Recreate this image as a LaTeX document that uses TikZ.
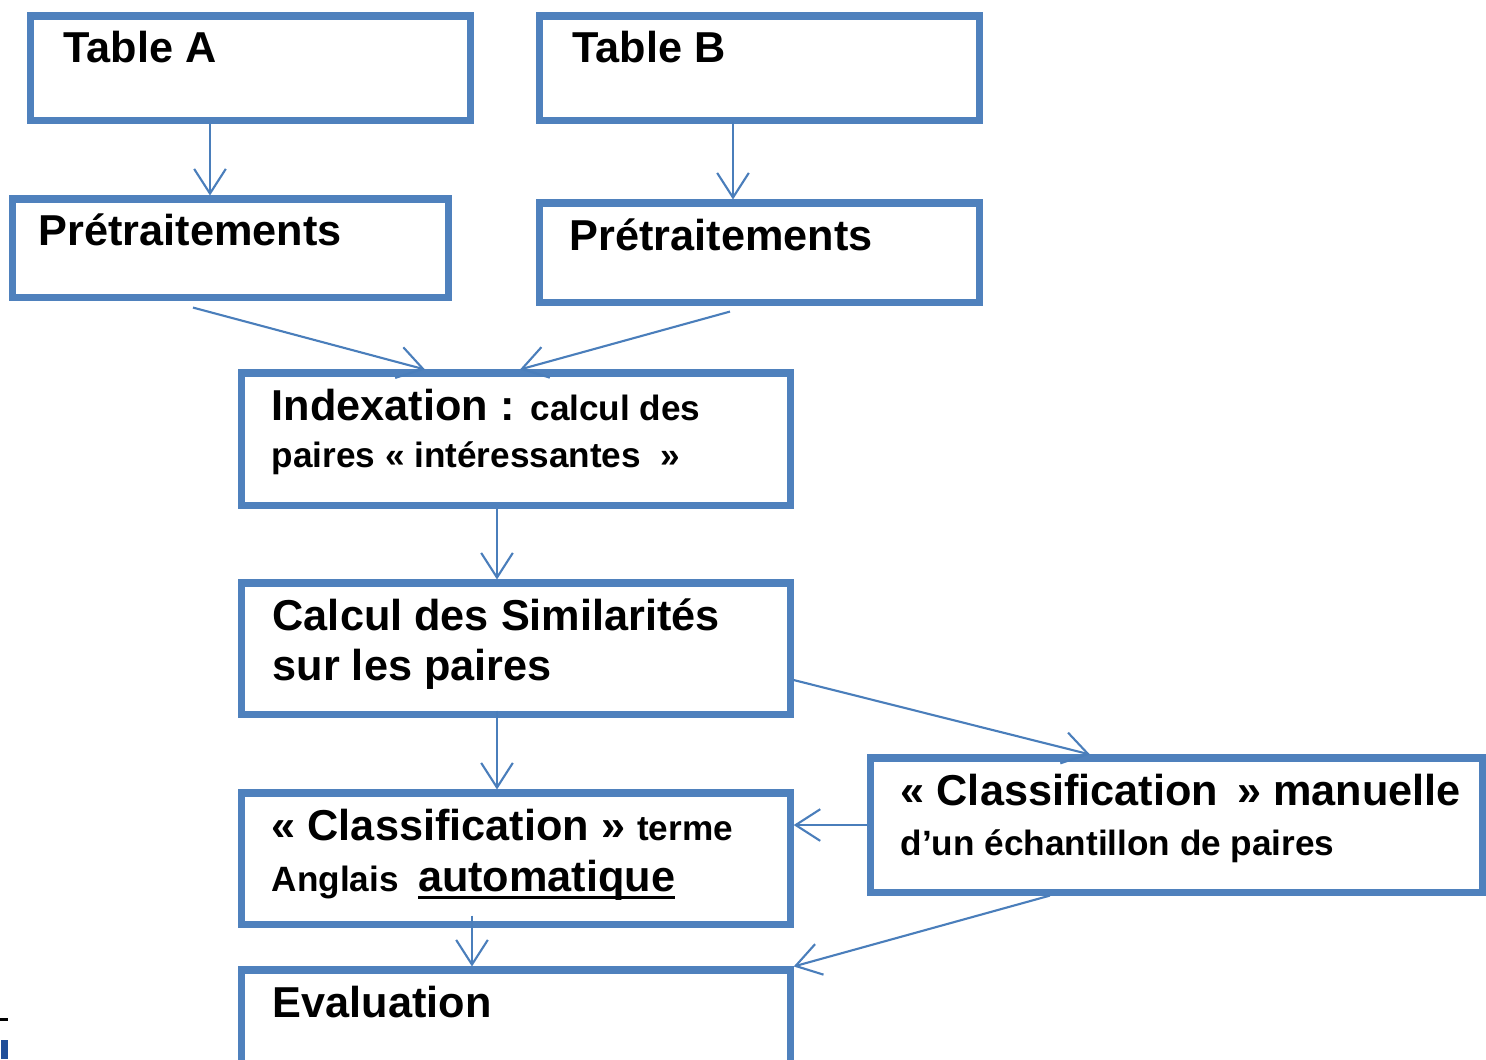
\documentclass[tikz,border=0pt]{standalone}
\usepackage{fontspec}
\setmainfont{Liberation Sans}
\usetikzlibrary{arrows.meta}
\definecolor{boxblue}{HTML}{4F81BD}
\definecolor{linkblue}{HTML}{4A7EBB}
\definecolor{markblue}{HTML}{1F4E99}
\newcommand{\gros}{\fontsize{12.3}{14}\selectfont\bfseries}
\newcommand{\petit}{\fontsize{10}{12}\selectfont\bfseries}
\newcommand{\ulbox}[1]{\setbox0\hbox{#1}\rlap{\rule[-2.2pt]{\wd0}{0.9pt}}\box0}
\begin{document}
\begin{tikzpicture}[x=0.01cm,y=-0.01cm,
	bloc/.style={draw=boxblue,line width=2pt,inner sep=0pt},
	txt/.style={anchor=base west,inner sep=0pt,font=\gros},
	fleche/.style={draw=linkblue,line width=0.6pt,-{Straight Barb[length=7pt,width=9pt]}}]
	\clip (0,0) rectangle (1486,1059);
	\node[bloc,minimum width=4.39cm,minimum height=1.04cm] (ta) at (250.5,68) {};
	\node[bloc,minimum width=4.39cm,minimum height=1.04cm] (tb) at (759.5,68) {};
	\node[bloc,minimum width=4.35cm,minimum height=0.98cm] (pa) at (230.5,248) {};
	\node[bloc,minimum width=4.39cm,minimum height=0.99cm] (pb) at (759.5,252.5) {};
	\node[bloc,minimum width=5.48cm,minimum height=1.32cm] (ix) at (516,439) {};
	\node[bloc,minimum width=5.48cm,minimum height=1.31cm] (cs) at (516,648.5) {};
	\node[bloc,minimum width=5.48cm,minimum height=1.31cm] (ca) at (516,858.5) {};
	\node[bloc,minimum width=6.11cm,minimum height=1.34cm] (cm) at (1176.5,825) {};
	\node[bloc,minimum width=5.48cm,minimum height=1.30cm] (ev) at (516,1035) {};
	\node[txt] (ta-t) at (63,62) {Table A};
	\node[txt] (tb-t) at (572,62) {Table B};
	\node[txt] (pa-t) at (38,245) {Prétraitements};
	\node[txt] (pb-t) at (569,250) {Prétraitements};
	\node[txt] (ix-t1) at (271,420) {Indexation : {\petit calcul des}};
	\node[txt,font=\petit] (ix-t2) at (271,467) {paires « intéressantes \ »};
	\node[txt] (cs-t1) at (272,630) {Calcul des Similarités};
	\node[txt] (cs-t2) at (272,680) {sur les paires};
	\node[txt] (ca-t1) at (271,840) {« Classification » {\petit terme}};
	\node[txt] (ca-t2) at (271,891) {{\petit Anglais}\hspace{5.5pt}\ulbox{automatique}};
	\node[txt] (cm-t1) at (900,805) {« Classification \,» manuelle};
	\node[txt,font=\petit] (cm-t2) at (900,855) {d’un échantillon de paires};
	\node[txt] (ev-t) at (272,1017) {Evaluation};
	\draw[fleche] ([xshift=-4.05mm]ta.south) -- ([xshift=-4.05mm]ta.south |- pa.north);
	\draw[fleche] ([xshift=-2.65mm,yshift=0.2mm]tb.south) -- ([xshift=-2.65mm]tb.south |- pb.north);
	\draw[fleche] ([xshift=-3.75mm,yshift=-0.7mm]pa.south) -- ([xshift=-9.1mm]ix.north);
	\draw[fleche] ([xshift=-2.95mm,yshift=-0.6mm]pb.south) -- ([xshift=0.4mm]ix.north);
	\draw[fleche] ([xshift=-1.9mm]ix.south) -- ([xshift=-1.9mm]ix.south |- cs.north);
	\draw[fleche] ([xshift=-1.9mm,yshift=0.7mm]cs.south) -- ([xshift=-1.9mm]cs.south |- ca.north);
	\draw[fleche] ([yshift=-3.15mm]cs.east) -- ([xshift=-8.65mm]cm.north);
	\draw[fleche] (cm.west) -- (cm.west -| ca.east);
	\draw[fleche] ([xshift=-4.4mm,yshift=1.2mm]ca.south) -- ([xshift=-4.4mm]ca.south |- ev.north);
	\draw[fleche] ([xshift=-12.65mm]cm.south) -- (ev.north east);
	\fill (0,1018) rectangle (8,1021);
	\fill[markblue] (1,1040) rectangle (8,1059);
\end{tikzpicture}
\end{document}
